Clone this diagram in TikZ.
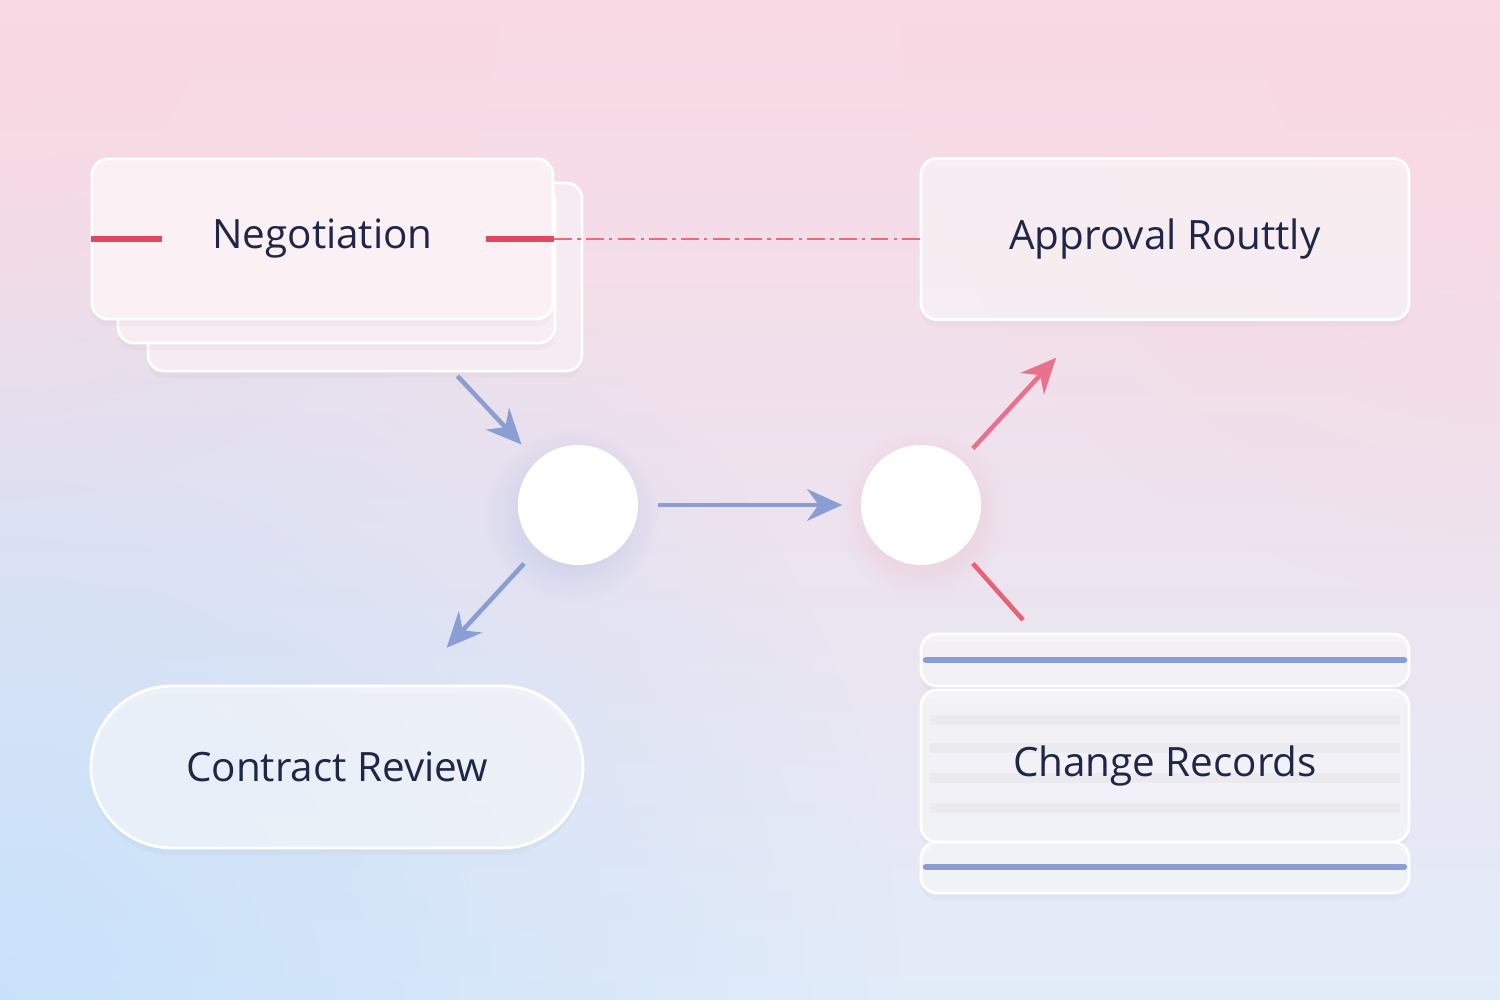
\documentclass[tikz,border=0pt]{standalone}
\usepackage{fontspec}
\setmainfont{Open Sans}
\usepackage{xcolor}
\usepackage{tikz}
\usetikzlibrary{positioning,arrows.meta,shadows,fadings,calc}
\definecolor{bgpink}{HTML}{F9D9E3}
\definecolor{bgmid}{HTML}{F2E9F3}
\definecolor{bgblue}{HTML}{E2ECF9}
\definecolor{cornerblue}{HTML}{C4E0FB}
\definecolor{inkblue}{HTML}{1F2748}
\definecolor{flowblue}{HTML}{8A9ED3}
\definecolor{flowred}{HTML}{E2485A}
\definecolor{flowpink}{HTML}{E8718B}
\definecolor{groove}{HTML}{D9D9E2}
\definecolor{stackfront}{HTML}{FBF0F4}
\definecolor{stackmid}{HTML}{F8EDF2}
\definecolor{stackback}{HTML}{F5EBF1}

\tikzfading[name=softglow, inner color=transparent!15, outer color=transparent!100]

\tikzset{
  card/.style={draw=white, line width=0.8pt, fill=white, fill opacity=0.55, text opacity=1,
    rounded corners=0.16cm, text=inkblue, font=\fontsize{11.5}{14}\selectfont,
    drop shadow={opacity=0.05, shadow xshift=0pt, shadow yshift=-2pt}},
  stackcard/.style={card, fill opacity=1},
  pill/.style={card, rounded corners=0.81cm},
  hub/.style={circle, fill=white, draw=none, minimum size=1.2cm, inner sep=0pt},
  flow/.style={line width=1.3pt, flowblue, -{Stealth[length=10pt,width=9pt]}},
  redflow/.style={line width=1.3pt, flowpink, -{Stealth[length=10pt,width=9pt]}},
  recline/.style={line width=1.6pt, flowblue, line cap=round}
}

\begin{document}
\begin{tikzpicture}
  \useasboundingbox (0,0) rectangle (15,10);
  \clip (0,0) rectangle (15,10);

  % Fondo
  \shade[top color=bgpink, middle color=bgmid, bottom color=bgblue] (0,0) rectangle (15,10);
  \fill[cornerblue, path fading=softglow] (0,0) circle (9);
  \fill[bgpink, path fading=softglow] (15,10) circle (6);
  \fill[bgpink, path fading=softglow] (0,10) circle (5);

  % Negotiation (pila)
  \node[stackcard, fill=stackback, minimum width=4.34cm, minimum height=1.88cm] (negC) at (3.65,7.23) {};
  \node[stackcard, fill=stackmid, minimum width=4.37cm, minimum height=1.58cm] (negB) at (3.365,7.36) {};
  \node[stackcard, fill=stackfront, minimum width=4.61cm, minimum height=1.60cm] (neg) at (3.225,7.61) {Negotiation};

  % Approval
  \node[card, minimum width=4.88cm, minimum height=1.61cm] (appr) at (11.65,7.61) {Approval Routtly};

  % Circulos
  \fill[flowblue!80, path fading=softglow, opacity=0.7] (5.72,4.84) circle (0.88);
  \fill[flowpink!70, path fading=softglow, opacity=0.55] (9.23,4.86) circle (0.85);
  \node[hub] (c1) at (5.78,4.95) {};
  \node[hub] (c2) at (9.21,4.95) {};

  % Contract Review
  \node[pill, minimum width=4.92cm, minimum height=1.62cm] (review) at (3.37,2.33) {Contract Review};

  % Change Records
  \foreach \y in {2.80,2.52,2.22,1.92}{
    \draw[groove, line width=3pt] (9.30,\y) -- (14.00,\y);
  }
  \node[card, minimum width=4.88cm, minimum height=0.52cm] (crTop) at (11.65,3.40) {};
  \node[card, minimum width=4.88cm, minimum height=1.52cm] (crMain) at (11.65,2.34) {Change Records};
  \node[card, minimum width=4.88cm, minimum height=0.51cm] (crBot) at (11.65,1.325) {};
  \draw[recline] ([xshift=0.06cm]crTop.west) -- ([xshift=-0.06cm]crTop.east);
  \draw[recline] ([xshift=0.06cm,yshift=0.005cm]crBot.west) -- ([xshift=-0.06cm,yshift=0.005cm]crBot.east);

  % Linea roja Negotiation -> Approval
  \draw[flowred, line width=1.5pt] (neg.west) -- ++(0.71,0);
  \draw[flowred, line width=1.5pt] ($(neg.east)+(-0.68,0)$) -- (neg.east);
  \draw[flowred!80, line width=0.8pt, dash pattern=on 5pt off 1.5pt on 1pt off 1.5pt] (neg.east) -- (appr.west);

  % Conectores
  \draw[flow, shorten <=0.05cm, shorten >=0.22cm] (negC) -- (c1);
  \draw[flow, shorten <=0.19cm, shorten >=0.18cm] (c1) -- (c2);
  \draw[flow, shorten <=0.19cm, shorten >=0.5cm] (c1) -- (review);
  \draw[redflow, shorten <=0.16cm, shorten >=0.5cm] (c2) -- (appr);
  \coordinate (crIn) at (10.23,3.80);
  \draw[flowred!85, line width=1.3pt, shorten <=0.175cm] (c2) -- (crIn);
\end{tikzpicture}
\end{document}
